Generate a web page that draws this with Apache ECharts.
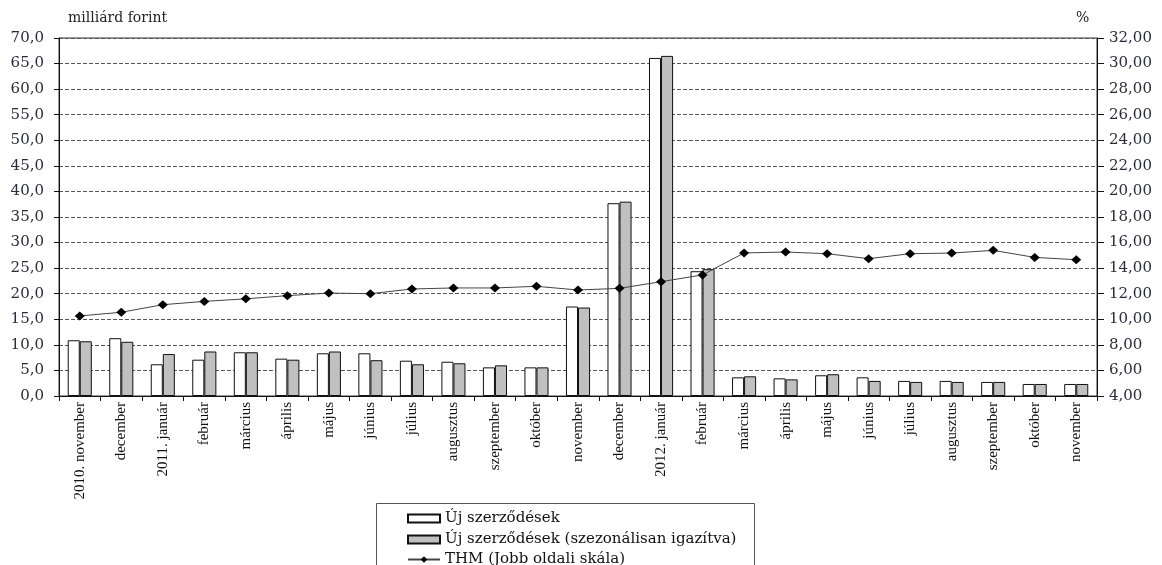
<!DOCTYPE html>
<html>
<head>
<meta charset="utf-8">
<script src="https://cdn.jsdelivr.net/npm/echarts@6/dist/echarts.min.js"></script>
<style>html,body{margin:0;padding:0;background:#fff}#c{width:1162px;height:565px}</style>
</head>
<body>
<div id="c"></div>
<script>
const categories = ["2010. november","december","2011. január","február","március","április","május","június","július","augusztus","szeptember","október","november","december","2012. január","február","március","április","május","június","július","augusztus","szeptember","október","november"];
const ujSzerzodesek = [10.9,11.3,6.2,7.1,8.55,7.3,8.35,8.35,6.9,6.7,5.6,5.6,17.5,37.7,66.1,24.4,3.65,3.45,4.05,3.65,2.95,2.95,2.75,2.35,2.35];
const ujSzerzodesekSA = [10.7,10.6,8.2,8.7,8.55,7.1,8.7,7.0,6.2,6.4,6.0,5.6,17.3,38.0,66.5,24.8,3.85,3.25,4.25,2.95,2.75,2.75,2.75,2.35,2.35];
const thm = [10.26,10.55,11.14,11.4,11.6,11.85,12.05,12.0,12.37,12.45,12.45,12.58,12.29,12.42,12.94,13.47,15.19,15.26,15.13,14.74,15.13,15.18,15.39,14.84,14.66];
const leftTicks = {min:0,max:70,interval:5};
const rightTicks = {min:4,max:32,interval:2};
const seriesNames = ['Új szerződések','Új szerződések (szezonálisan igazítva)','THM (Jobb oldali skála)'];

const chart = echarts.init(document.getElementById('c'));
const numFont = {fontFamily:'DejaVu Serif',fontSize:15,color:'#2b2b3b'};
const legendText = {fontFamily:'DejaVu Serif',fontSize:15,color:'#111'};
function mkLegend(name, top, icon){
  return {orient:'horizontal',left:407,top:top,padding:0,itemWidth:32,itemHeight:8,itemGap:0,
    textStyle:Object.assign({padding:[0,0,0,0]},legendText),
    data:[icon?{name:name,icon:icon}:{name:name}]};
}
chart.setOption({
  animation:false,
  backgroundColor:'#fff',
  grid:{left:59,right:65,top:38,bottom:169,show:true,borderColor:'#333',borderWidth:1},
  graphic:[
    {type:'text',left:68,top:11,style:{text:'milliárd forint',fontFamily:'DejaVu Serif',fontSize:14,fill:'#222'}},
    {type:'text',left:1076,top:11,style:{text:'%',fontFamily:'DejaVu Serif',fontSize:14,fill:'#222'}},
    {type:'rect',shape:{x:376.5,y:503.5,width:378,height:80},style:{fill:'none',stroke:'#555',lineWidth:1},z:-1}
  ],
  legend:[
    mkLegend(seriesNames[0],511,'rect'),
    mkLegend(seriesNames[1],532,'rect'),
    mkLegend(seriesNames[2],552,null)
  ],
  xAxis:{
    type:'category',data:categories,
    axisLine:{lineStyle:{color:'#111'}},
    axisTick:{show:true,length:5,lineStyle:{color:'#111'}},
    axisLabel:{interval:0,rotate:90,fontFamily:'Liberation Serif',fontSize:15,color:'#111',margin:6}
  },
  yAxis:[
    {type:'value',min:leftTicks.min,max:leftTicks.max,interval:leftTicks.interval,
     axisLine:{show:true,lineStyle:{color:'#111'}},
     axisTick:{show:true,length:5,lineStyle:{color:'#111'}},
     axisLabel:Object.assign({margin:15,formatter:v=>v.toFixed(1).replace('.',',')},numFont),
     splitLine:{show:true,lineStyle:{type:[4,2],color:'#555',width:1}}},
    {type:'value',min:rightTicks.min,max:rightTicks.max,interval:rightTicks.interval,position:'right',
     axisLine:{show:true,lineStyle:{color:'#111'}},
     axisTick:{show:true,length:7,lineStyle:{color:'#111'}},
     axisLabel:Object.assign({margin:12,formatter:v=>v.toFixed(2).replace('.',',')},numFont),
     splitLine:{show:false}}
  ],
  series:[
    {name:seriesNames[0],type:'bar',data:ujSzerzodesek,barGap:'0%',barCategoryGap:'42%',
     itemStyle:{color:'#ffffff',borderColor:'#111',borderWidth:1}},
    {name:seriesNames[1],type:'bar',data:ujSzerzodesekSA,
     itemStyle:{color:'#c0c0c0',borderColor:'#111',borderWidth:1}},
    {name:seriesNames[2],type:'line',yAxisIndex:1,data:thm,symbol:'diamond',symbolSize:[10,9],
     lineStyle:{color:'#444',width:1},itemStyle:{color:'#000'},z:5}
  ]
});
</script>
</body>
</html>
